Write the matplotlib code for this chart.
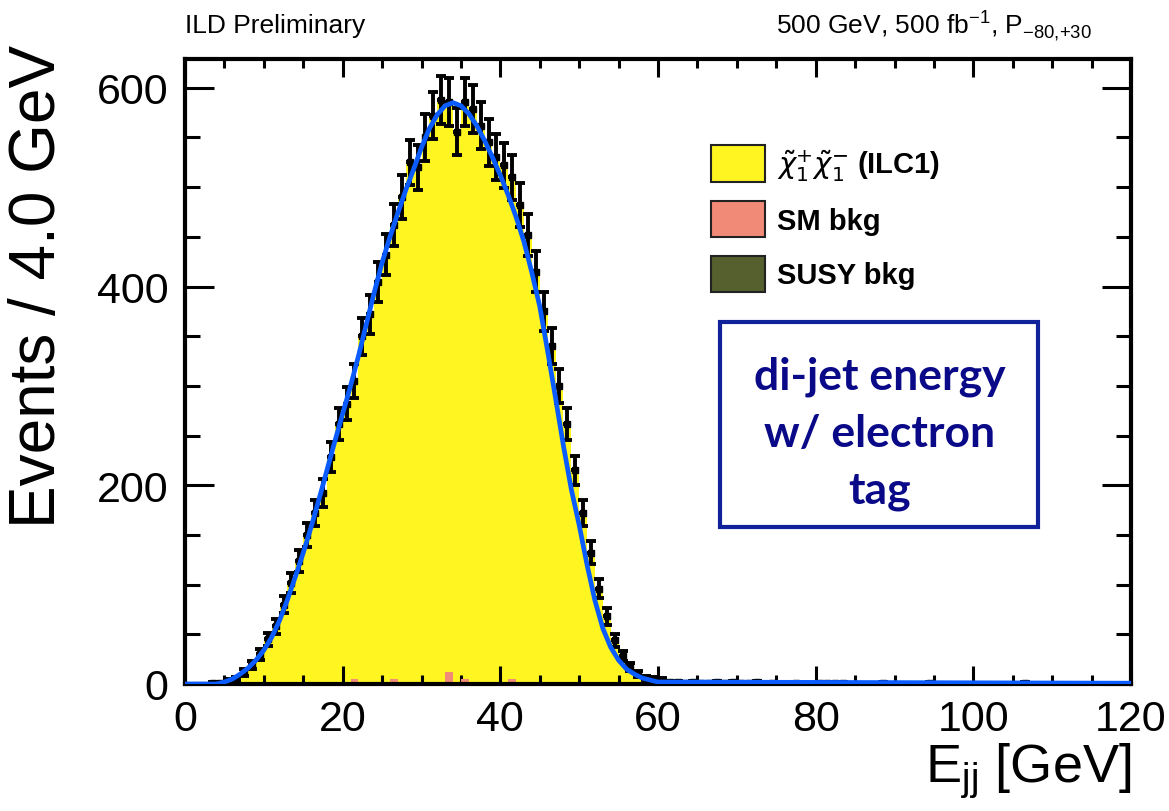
import numpy as np
import matplotlib
matplotlib.use('Agg')
import matplotlib.pyplot as plt
from matplotlib.patches import Rectangle, Patch

# --- data (1 GeV bins, 0..120 GeV) ---
bin_lo = np.arange(0, 120, 1.0)
counts = [
    0, 0, 0, 1, 1, 3, 5, 12, 19, 30,
    45, 58, 80, 102, 124, 150, 172, 192, 228, 262,
    282, 305, 350, 372, 405, 432, 462, 490, 525, 520,
    550, 572, 588, 586, 556, 586, 579, 562, 545, 530,
    522, 510, 482, 452, 415, 375, 340, 300, 262, 215,
    172, 132, 96, 68, 44, 28, 17, 10, 6, 5,
    4, 2, 2, 1, 2, 1, 1, 2, 1, 2,
    1, 1, 2, 0, 1, 0, 0, 1, 0, 0,
    1, 1, 1, 1, 0, 0, 0, 0, 1, 0,
    0, 0, 0, 0, 1, 0, 0, 0, 0, 0,
    0, 0, 0, 0, 0, 0, 1, 0, 0, 0,
    0, 0, 0, 0, 0, 0, 0, 0, 0, 0,
]
sm_bkg = [0] * 120
for b, v in {21: 5, 26: 5, 33: 12, 35: 5, 41: 5}.items():
    sm_bkg[b] = v
susy_bkg = [0] * 120

fit_x = list(range(0, 61)) + [120]
fit_y = [
    0, 0, 0, 0, 0, 2, 5, 10, 16, 24,
    34, 47, 64, 85, 108, 132, 158, 186, 215, 244,
    272, 300, 330, 362, 394, 424, 450, 474, 497, 518,
    540, 559, 573, 582, 585, 582, 574, 562, 547, 530,
    512, 492, 470, 445, 414, 380, 335, 288, 240, 196,
    160, 120, 84, 56, 37, 24, 15, 10, 6, 4,
    2, 0.8,
]

counts = np.array(counts, float)
sm_bkg = np.array(sm_bkg, float)
susy_bkg = np.array(susy_bkg, float)
edges = np.append(bin_lo, 120.0)
centers = bin_lo + 0.5

YELLOW = '#fff520'
PINK = '#f28a78'
OLIVE = '#55602e'
FITBLUE = '#0a5cff'
BOXEDGE = '#10229a'
BOXTEXT = '#0a0a88'

W, H = 1169, 812
fig = plt.figure(figsize=(W / 100, H / 100), dpi=100)
ax = fig.add_axes([185 / W, 1 - 685 / H, (1131 - 185) / W, (685 - 60) / H])

# stacked histogram: total (signal on top), then SM + SUSY at bottom
ax.stairs(counts, edges, fill=True, color=YELLOW, zorder=1)
ax.stairs(sm_bkg + susy_bkg, edges, fill=True, color=PINK, zorder=2)
ax.stairs(susy_bkg, edges, fill=True, color=OLIVE, zorder=3)

# data points
m = counts > 0
err = np.sqrt(counts[m])
ax.errorbar(centers[m], counts[m], yerr=err, fmt='none', ecolor='black',
            elinewidth=2.8, capsize=3.5, capthick=2.8, zorder=4)
ax.errorbar(centers[m], counts[m], xerr=0.5, fmt='s', color='black',
            ms=5, elinewidth=2.8, zorder=4)

# fit
ax.plot(fit_x, fit_y, color=FITBLUE, lw=3.4, zorder=5)

ax.set_xlim(0, 120)
ax.set_ylim(0, 629)
ax.set_xticks([0, 20, 40, 60, 80, 100, 120])
ax.set_xticks(np.arange(0, 121, 5), minor=True)
ax.set_yticks([0, 200, 400, 600])
ax.set_yticks(np.arange(0, 629, 50), minor=True)
for s in ax.spines.values():
    s.set_linewidth(3)
ax.tick_params(axis='both', which='both', direction='in', top=True, right=True,
               width=2.2, labelsize=31)
ax.tick_params(axis='y', which='major', length=21, pad=12)
ax.tick_params(axis='y', which='minor', length=11)
ax.tick_params(axis='x', which='major', length=13, pad=11)
ax.tick_params(axis='x', which='minor', length=6.5)
for lab in ax.get_xticklabels() + ax.get_yticklabels():
    lab.set_family('Liberation Sans')

fig.text(38 / W, 1 - 286 / H, 'Events / 4.0 GeV', rotation=90, ha='center',
         va='center', fontsize=46, family='Liberation Sans')
fig.text(1131 / W, 1 - 772 / H, r'E$_{\mathregular{jj}}$ [GeV]', ha='right',
         va='center', fontsize=39, family='Liberation Sans')

fig.text(185 / W, 1 - 26 / H, 'ILD Preliminary', ha='left', va='center',
         fontsize=19, family='Liberation Sans')
fig.text(1092 / W, 1 - 26 / H,
         r'500 GeV, 500 fb$^{\mathregular{-1}}$, P$_{\mathregular{-80{,}{+}30}}$',
         ha='right', va='center', fontsize=19, family='Liberation Sans')

# legend
handles = [Patch(facecolor=YELLOW, edgecolor='#222222', lw=1.5),
           Patch(facecolor=PINK, edgecolor='#222222', lw=1.5),
           Patch(facecolor=OLIVE, edgecolor='#222222', lw=1.5)]
labels = [r'$\tilde{\chi}^{+}_{1}\tilde{\chi}^{-}_{1}$ (ILC1)', 'SM bkg', 'SUSY bkg']
fig.legend(handles, labels, loc='upper left',
           bbox_to_anchor=(711 / W, 1 - 146 / H), frameon=False,
           borderpad=0, borderaxespad=0, handlelength=1.85,
           handleheight=1.55, handletextpad=0.4, labelspacing=0.62,
           prop={'family': 'Liberation Sans', 'weight': 'bold', 'size': 21})

# annotation box
fig.patches.append(Rectangle((720 / W, 1 - 528 / H), (1038 - 720) / W,
                             (528 - 323) / H, transform=fig.transFigure,
                             fill=False, edgecolor=BOXEDGE, lw=3))
fig.text(880 / W, 1 - 434 / H, 'di-jet energy\nw/ electron\ntag', ha='center',
         va='center', fontsize=32, fontweight='bold', color=BOXTEXT,
         family='Lato', linespacing=1.5)

fig.savefig('out.png', dpi=100)
